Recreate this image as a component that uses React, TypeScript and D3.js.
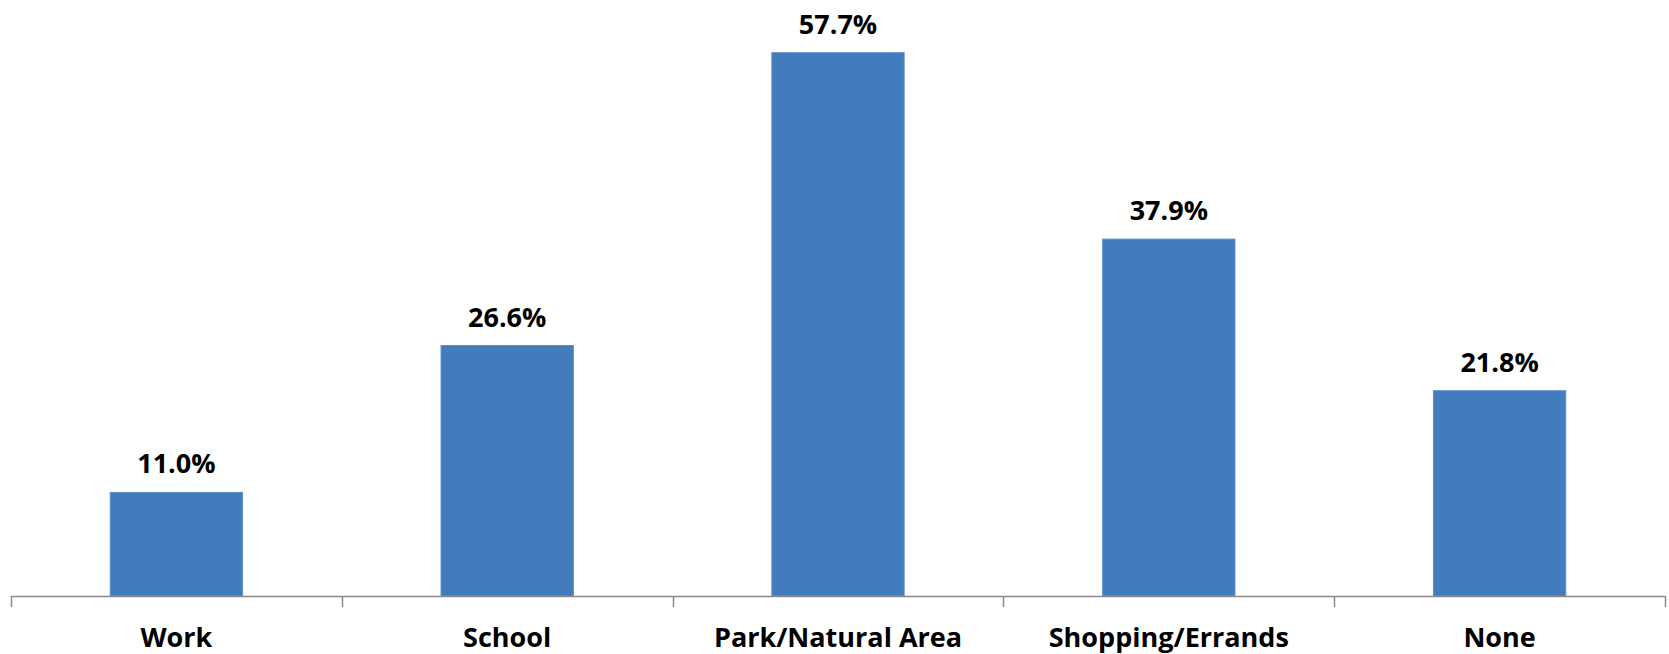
import { scaleBand, scaleLinear } from 'd3';

const categories = ['Work', 'School', 'Park/Natural Area', 'Shopping/Errands', 'None'];
const values = [11.0, 26.6, 57.7, 37.9, 21.8];
const valueLabels = ['11.0%', '26.6%', '57.7%', '37.9%', '21.8%'];

const WIDTH = 1669;
const HEIGHT = 654;
const AXIS_Y = 596;
const LEFT = 11;
const RIGHT = 1665;
const TICK_LENGTH = 11;
const FONT = '"Open Sans", "Liberation Sans", sans-serif';

export default function App() {
  const xScale = scaleBand<string>()
    .domain(categories)
    .range([LEFT, RIGHT])
    .paddingInner(0.6)
    .paddingOuter(0.3);
  const step = xScale.step();
  const yScale = scaleLinear().domain([0, 60]).range([AXIS_Y, AXIS_Y - 565]);

  const tickXs = categories.map((c, i) => LEFT + i * step).concat([RIGHT]);

  return (
    <svg
      width={WIDTH}
      height={HEIGHT}
      viewBox={`0 0 ${WIDTH} ${HEIGHT}`}
      style={{ position: 'absolute', left: 0, top: 0, display: 'block', background: '#fff' }}
    >
      {categories.map((c, i) => (
        <rect
          key={c}
          x={xScale(c)}
          y={yScale(values[i])}
          width={xScale.bandwidth()}
          height={AXIS_Y - yScale(values[i])}
          fill="#427CBC"
          stroke="#5a8fcc"
          strokeWidth={1}
        />
      ))}
      <line x1={LEFT} x2={RIGHT} y1={AXIS_Y + 0.5} y2={AXIS_Y + 0.5} stroke="#8a8a8a" strokeWidth={1.5} />
      {tickXs.map((x, i) => (
        <line
          key={i}
          x1={Math.round(x) + 0.5}
          x2={Math.round(x) + 0.5}
          y1={AXIS_Y}
          y2={AXIS_Y + TICK_LENGTH}
          stroke="#8a8a8a"
          strokeWidth={1.5}
        />
      ))}
      {categories.map((c, i) => (
        <text
          key={c}
          x={(xScale(c) as number) + xScale.bandwidth() / 2}
          y={yScale(values[i]) - 19}
          textAnchor="middle"
          fontFamily={FONT}
          fontWeight="bold"
          fontSize={27}
          fill="#000"
        >
          {valueLabels[i]}
        </text>
      ))}
      {categories.map(c => (
        <text
          key={c}
          x={(xScale(c) as number) + xScale.bandwidth() / 2}
          y={647}
          textAnchor="middle"
          fontFamily={FONT}
          fontWeight="bold"
          fontSize={27}
          fill="#000"
        >
          {c}
        </text>
      ))}
    </svg>
  );
}
